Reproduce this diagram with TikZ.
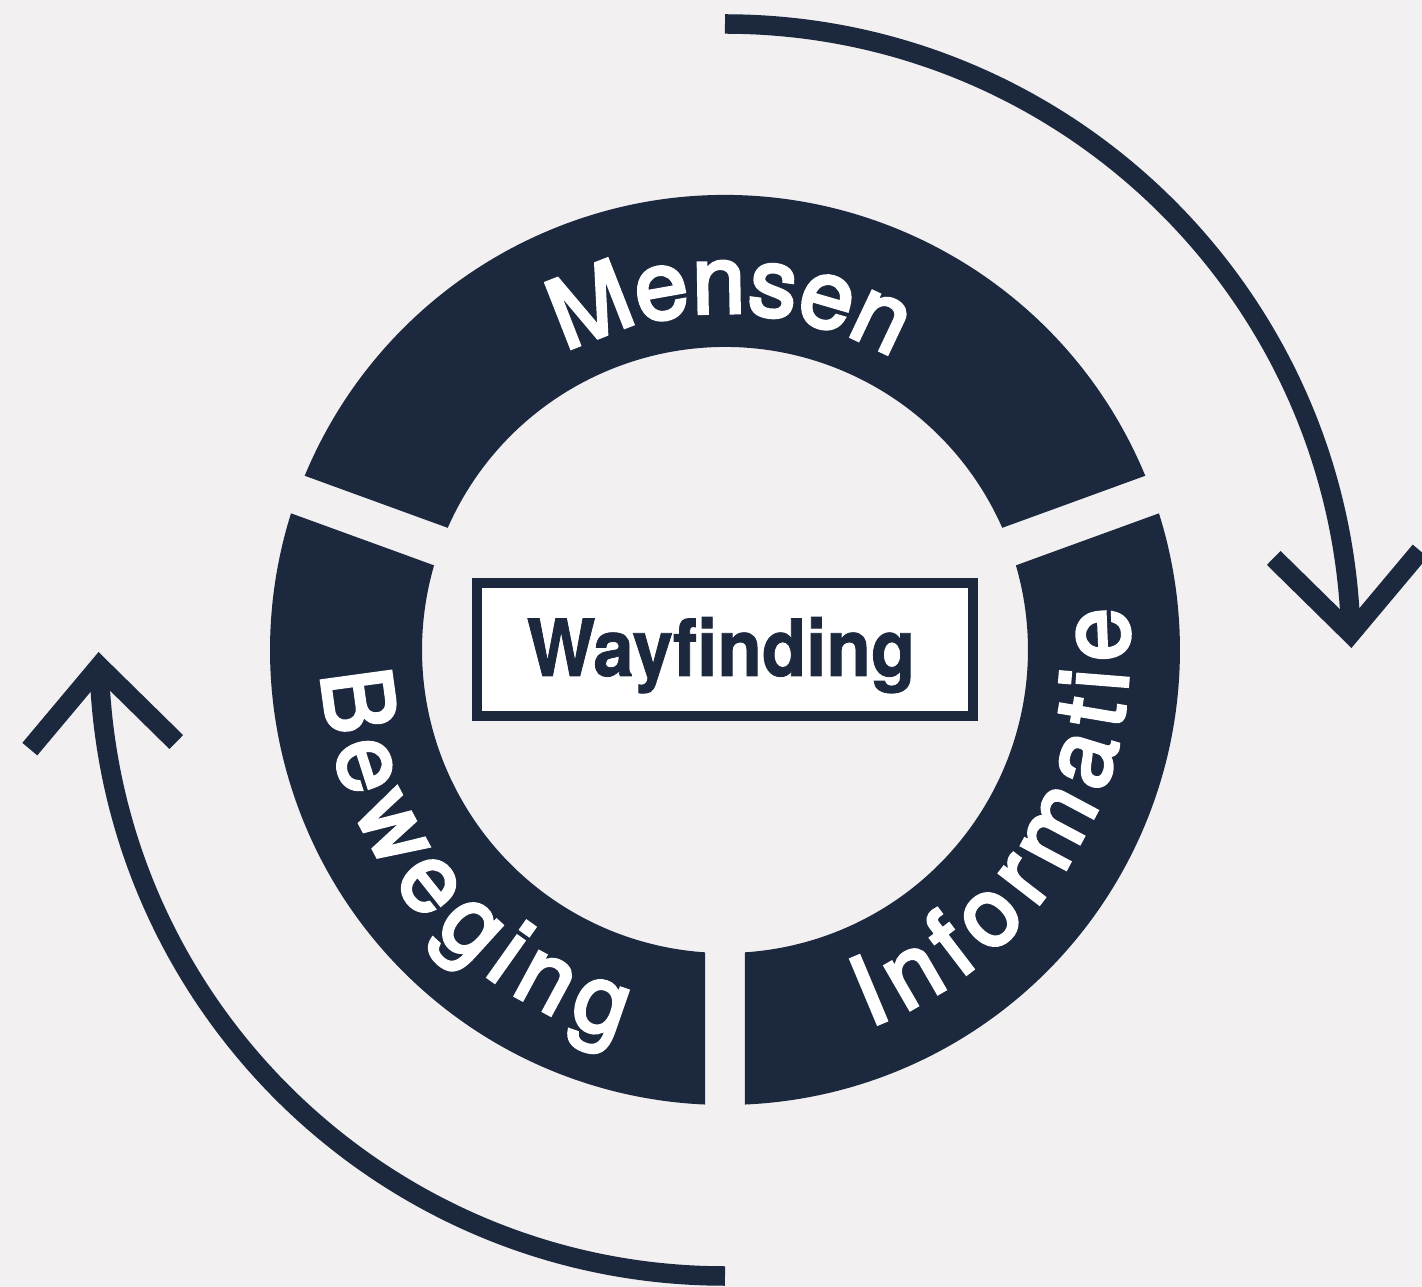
\documentclass[tikz,border=0pt]{standalone}
\usepackage{fontspec}
\setmainfont{TeX Gyre Heros}
\newfontfamily\ringfont{TeX Gyre Heros}[FakeBold=3.5]
\newfontfamily\wayfont{TeX Gyre Heros}[FakeStretch=0.92,FakeBold=1]
\usetikzlibrary{decorations.text}
\definecolor{navy}{HTML}{1B283E}
\definecolor{bg}{HTML}{F2F0F1}
\newcommand\ringstyle{\ringfont\fontsize{96}{96}\selectfont}
\begin{document}
\begin{tikzpicture}[x=1pt,y=1pt,
  seg/.style={fill=navy},
  cyc/.style={draw=navy, line width=19.5pt, line cap=butt},
  tip/.style={draw=navy, line width=19.5pt, line cap=butt, line join=miter},
  ringtext/.style={decorate, decoration={text along path, text color=white,
      text={|\ringstyle|#1}, text align={fit to path}}},
  wbox/.style={draw=navy, line width=10pt, fill=white, minimum width=496pt,
      minimum height=133pt, inner sep=0pt},
  wtext/.style={text=navy, inner sep=0pt, anchor=base,
      font=\wayfont\bfseries\fontsize{79}{79}\selectfont}]
\fill[bg] (-725,-637) rectangle (697,650);
\useasboundingbox (-725,-637) rectangle (697,650);

% ring segments
\fill[seg] (22.52:455) arc[start angle=22.52, end angle=157.48, radius=455]
  -- (156.22:303) arc[start angle=156.22, end angle=23.78, radius=303] -- cycle;
\fill[seg] (-87.48:455) arc[start angle=-87.48, end angle=17.48, radius=455]
  -- (16.22:303) arc[start angle=16.22, end angle=-86.22, radius=303] -- cycle;
\fill[seg] (162.52:455) arc[start angle=162.52, end angle=267.48, radius=455]
  -- (266.22:303) arc[start angle=266.22, end angle=163.78, radius=303] -- cycle;

% ring labels
\path[ringtext=Mensen] (118.2:337) arc[start angle=118.2, end angle=60.4, radius=337];
\path[ringtext=Informatie] (-69.1:404) arc[start angle=-69.1, end angle=6.1, radius=404];
\path[ringtext=Beweging] (183.3:404) arc[start angle=183.3, end angle=254.6, radius=404];

% centre box
\node[wbox] (wfbox) at (0,0.5) {};
\node[wtext] (wftext) at (-4,-26) {Wayfinding};

% cycle arrows
\coordinate (arrAstart) at (90:626);
\coordinate (tipA) at (1.5:626);
\coordinate (arrBstart) at (270:626);
\coordinate (tipB) at (181.5:626);
\draw[cyc] (arrAstart) arc[start angle=90, end angle=1.5, radius=626];
\draw[tip] (tipA) ++(50:108) -- (tipA) -- ++(135.5:108);
\draw[cyc] (arrBstart) arc[start angle=270, end angle=181.5, radius=626];
\draw[tip] (tipB) ++(230:108) -- (tipB) -- ++(315.5:108);
\end{tikzpicture}
\end{document}
